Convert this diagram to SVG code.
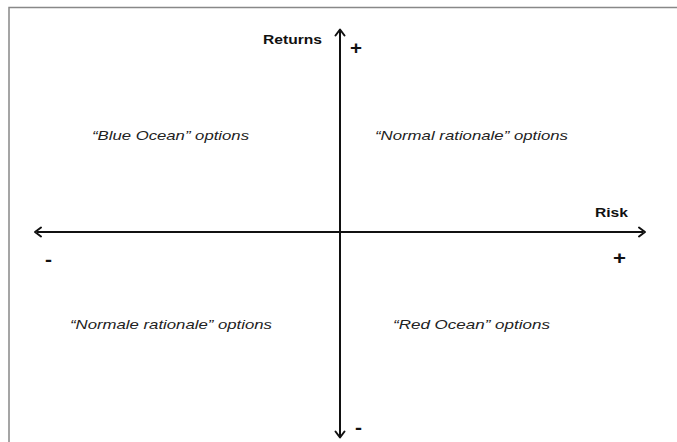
<svg xmlns="http://www.w3.org/2000/svg" width="677" height="442" viewBox="0 0 677 442">
<style>
.ax{stroke:#111;stroke-width:2;fill:none}
.hd{stroke:#111;stroke-width:2;fill:none;stroke-linecap:round;stroke-linejoin:round}
.lb{font-family:"Liberation Sans",Arial,sans-serif;font-weight:bold;font-size:12.5px;fill:#111}
.sg{font-family:"Liberation Sans",Arial,sans-serif;font-weight:bold;font-size:18px;fill:#111}
.q{font-family:"Liberation Sans",Arial,sans-serif;font-style:italic;font-size:13.5px;fill:#222}
</style>
<rect width="677" height="442" fill="#fff"/>
<path d="M9 442V7.5H677" stroke="#888" stroke-width="1.5" fill="none"/>
<g id="connectors">
<line class="ax" x1="340" y1="31" x2="340" y2="436"/>
<line class="ax" x1="37" y1="232" x2="643" y2="232"/>
<path class="hd" d="M335.5 35.5L340 29.5L344.5 35.5"/>
<path class="hd" d="M335.5 431.5L340 437.5L344.5 431.5"/>
<path class="hd" d="M41 227.5L35 232L41 236.5"/>
<path class="hd" d="M639 227.5L645 232L639 236.5"/>
</g>
<g id="returns"><text class="lb" x="263" y="44" textLength="59" lengthAdjust="spacingAndGlyphs">Returns</text></g>
<g id="risk"><text class="lb" x="595" y="217" textLength="33" lengthAdjust="spacingAndGlyphs">Risk</text></g>
<g id="plus-top"><text class="sg" x="350" y="54" textLength="12" lengthAdjust="spacingAndGlyphs">+</text></g>
<g id="plus-right"><text class="sg" x="613" y="264" textLength="13" lengthAdjust="spacingAndGlyphs">+</text></g>
<g id="minus-left"><text class="sg" x="45" y="266" textLength="7" lengthAdjust="spacingAndGlyphs">-</text></g>
<g id="minus-bottom"><text class="sg" x="355" y="434" textLength="7" lengthAdjust="spacingAndGlyphs">-</text></g>
<g id="q1"><text class="q" x="92" y="140" textLength="157" lengthAdjust="spacingAndGlyphs">“Blue Ocean” options</text></g>
<g id="q2"><text class="q" x="375" y="140" textLength="193" lengthAdjust="spacingAndGlyphs">“Normal rationale” options</text></g>
<g id="q3"><text class="q" x="70" y="329" textLength="202" lengthAdjust="spacingAndGlyphs">“Normale rationale” options</text></g>
<g id="q4"><text class="q" x="393" y="329" textLength="157" lengthAdjust="spacingAndGlyphs">“Red Ocean” options</text></g>
</svg>
